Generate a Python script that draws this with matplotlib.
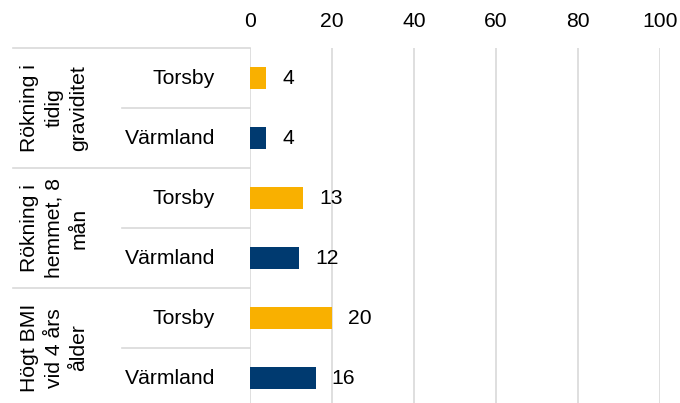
import matplotlib
matplotlib.use("Agg")
import matplotlib.pyplot as plt

plt.rcParams['font.family'] = ['Liberation Sans', 'DejaVu Sans']

# data
groups = ["Rökning i\ntidig\ngraviditet", "Rökning i\nhemmet, 8\nmån", "Högt BMI\nvid 4 års\nålder"]
regions = ["Torsby", "Värmland"]
torsby = [4, 13, 20]
varmland = [4, 12, 16]
xticks = [0, 20, 40, 60, 80, 100]

colors = {"Torsby": "#F9B000", "Värmland": "#003A70"}
grid_col = "#D9D9D9"
fs = 15.2

W, H = 680, 403
fig = plt.figure(figsize=(W / 100, H / 100), dpi=100)
# axes spans pixel x 250..660, y 48..408 (slightly clipped at bottom like the original)
ax = fig.add_axes([250 / W, 1 - 408 / H, 410 / W, 360 / H])

vals = {"Torsby": torsby, "Värmland": varmland}
for gi in range(len(groups)):
    for ri, reg in enumerate(regions):
        y = gi * 2 + ri + 0.5
        v = vals[reg][gi]
        ax.barh(y, v, height=0.38, color=colors[reg], zorder=3)
        ax.annotate(str(v), (v, y), xytext=(11.5, 0), textcoords="offset points",
                    ha="left", va="center", fontsize=fs, color="black")

ax.set_xlim(0, 100)
ax.set_ylim(6, 0)
ax.set_xticks(xticks)
ax.xaxis.tick_top()
ax.tick_params(axis="x", length=0, pad=12.5, labelsize=fs)
ax.set_yticks([])
ax.grid(axis="x", color=grid_col, linewidth=1.2, zorder=0)
ax.set_axisbelow(True)
for s in ax.spines.values():
    s.set_visible(False)

# left category table
tr = ax.get_yaxis_transform()
x_grp = (13 - 250) / 410
x_sub = (122 - 250) / 410
for k in range(7):
    x0 = x_grp if k % 2 == 0 else x_sub
    ax.plot([x0, 0], [k, k], transform=tr, color=grid_col, lw=1.2, clip_on=False)

for gi, g in enumerate(groups):
    ax.text((54 - 250) / 410, gi * 2 + 1, g, transform=tr, rotation=90,
            ha="center", va="center", multialignment="center",
            fontsize=fs, linespacing=1.4)
    for ri, reg in enumerate(regions):
        ax.text((215 - 250) / 410, gi * 2 + ri + 0.5, reg, transform=tr,
                ha="right", va="center", fontsize=fs)

fig.savefig("out.png", dpi=100)
